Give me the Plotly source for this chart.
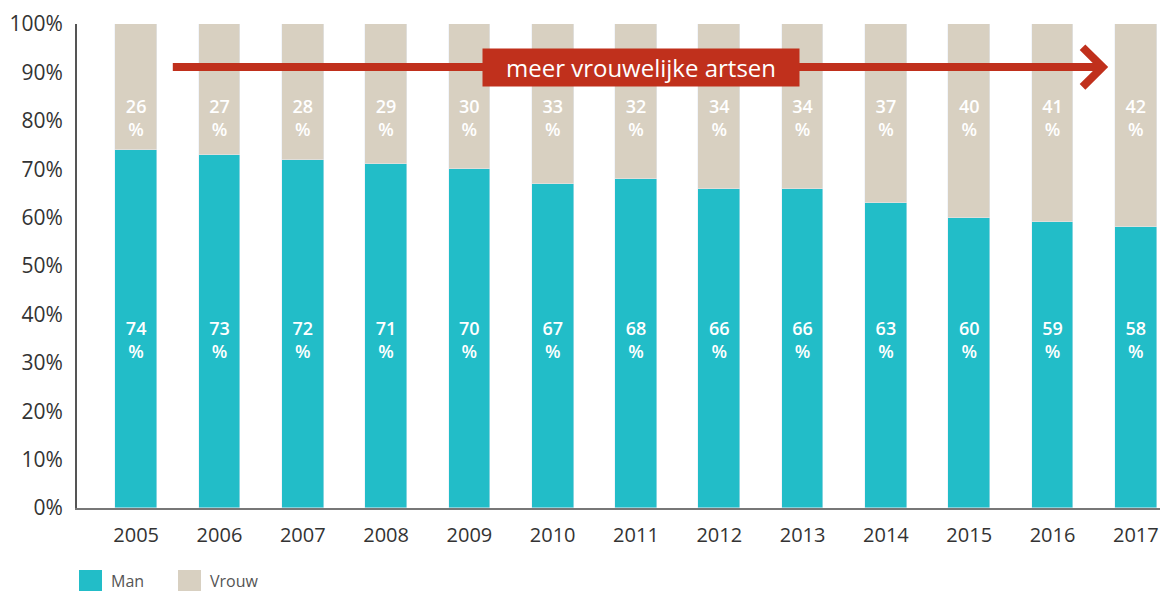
import plotly.graph_objects as go

years = [2005, 2006, 2007, 2008, 2009, 2010, 2011, 2012, 2013, 2014, 2015, 2016, 2017]
man = [74, 73, 72, 71, 70, 67, 68, 66, 66, 63, 60, 59, 58]
vrouw = [26, 27, 28, 29, 30, 33, 32, 34, 34, 37, 40, 41, 42]
y_ticks = [0, 10, 20, 30, 40, 50, 60, 70, 80, 90, 100]
arrow_label = "meer vrouwelijke artsen"

TEAL = "#22BDC8"
BEIGE = "#D8D0C1"
RED = "#C0301C"
FONT = "Open Sans"

fig = go.Figure()
fig.add_bar(x=years, y=man, name="Man", marker_color=TEAL, width=0.5)
fig.add_bar(x=years, y=vrouw, name="Vrouw", marker_color=BEIGE, width=0.5)

# value labels sit at a fixed height inside each segment
label_font = dict(family=FONT, size=18, color="white", weight=600)
fig.add_scatter(x=years, y=[34.3] * len(years), mode="text",
                text=[f"{v}<br>%" for v in man], textfont=label_font,
                showlegend=False, hoverinfo="skip")
fig.add_scatter(x=years, y=[80.2] * len(years), mode="text",
                text=[f"{v}<br>%" for v in vrouw], textfont=label_font,
                showlegend=False, hoverinfo="skip")

# red arrow across the top
arrow_y = 91.1
fig.add_shape(type="line", x0=2005.44, x1=2016.55, y0=arrow_y, y1=arrow_y,
              line=dict(color=RED, width=8))
fig.add_shape(type="path",
              path=f"M 2016.36 95.2 L 2016.6 {arrow_y} L 2016.36 87.0",
              line=dict(color=RED, width=8))
fig.add_annotation(x=2011.06, y=arrow_y, text=arrow_label, showarrow=False,
                   font=dict(family=FONT, size=24, color="white"),
                   bgcolor=RED, width=316, height=37, borderpad=0)

# legend drawn by hand: big squares below the axis
for x0, name, color in [(79, "Man", TEAL), (178, "Vrouw", BEIGE)]:
    fig.add_shape(type="rect", xref="paper", yref="paper",
                  x0=(x0 - 77) / 1083, x1=(x0 + 23 - 77) / 1083,
                  y0=-(570 - 508) / 484, y1=-(592 - 508) / 484,
                  fillcolor=color, line_width=0)
    fig.add_annotation(xref="paper", yref="paper", x=(x0 + 30 - 77) / 1083,
                       y=-(581 - 508) / 484, text=name, showarrow=False,
                       xanchor="left", yanchor="middle",
                       font=dict(family=FONT, size=16, color="#555555"))

fig.update_layout(
    barmode="stack",
    width=1162, height=591,
    margin=dict(l=77, r=2, t=24, b=83, autoexpand=False),
    plot_bgcolor="white", paper_bgcolor="white",
    showlegend=False,
    bargap=0,
)
fig.update_xaxes(range=[2004.29, 2017.29], tickvals=years, ticks="",
                 showgrid=False, zeroline=False, showline=True,
                 linecolor="#777777", linewidth=2, automargin=False,
                 tickfont=dict(family=FONT, size=20, color="#333333"),
                 ticklabelstandoff=8)
fig.update_yaxes(range=[0, 100], tickvals=y_ticks,
                 ticktext=[f"{t}%" for t in y_ticks], ticks="",
                 showgrid=False, zeroline=False, showline=True,
                 linecolor="#555555", linewidth=2, automargin=False,
                 tickfont=dict(family=FONT, size=21, color="#333333"),
                 ticklabelstandoff=8)

# drop the default body margin so the figure fills the window exactly
fig.write_html("out.html", config={"displayModeBar": False},
               post_script="document.body.style.margin='0';"
                           "document.body.style.overflow='hidden';")
